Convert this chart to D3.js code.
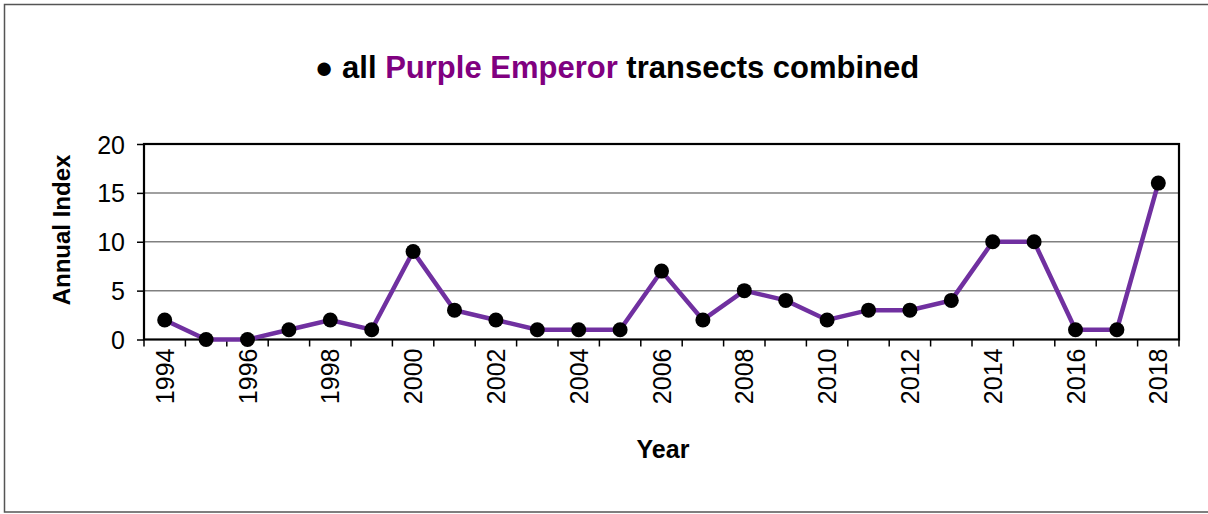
<!DOCTYPE html>
<html><head><meta charset="utf-8">
<script src="https://cdn.jsdelivr.net/npm/d3@7"></script>
<style>body{margin:0;background:#fff}svg{display:block}text{font-family:"Liberation Sans",Arial,sans-serif}</style>
</head><body><svg id="c" width="1208" height="514"></svg>
<script>
const years = [1994,1995,1996,1997,1998,1999,2000,2001,2002,2003,2004,2005,2006,2007,2008,2009,2010,2011,2012,2013,2014,2015,2016,2017,2018];
const annualIndex = [2,0,0,1,2,1,9,3,2,1,1,1,7,2,5,4,2,3,3,4,10,10,1,1,16];
const yTicks = [0,5,10,15,20];

const svg = d3.select("#c");
svg.append("rect").attr("x",4.5).attr("y",4.5).attr("width",1210).attr("height",507.5)
  .attr("fill","#fff").attr("stroke","#555").attr("stroke-width",1.5);

const L=144, R=1179, T=144, B=339.5;
const x = d3.scaleBand().domain(years).range([L,R]);
const y = d3.scaleLinear().domain([0,20]).range([B,T]);

// gridlines
svg.append("g").selectAll("line").data(yTicks.filter(d=>d>0&&d<20)).join("line")
  .attr("x1",L).attr("x2",R).attr("y1",d=>y(d)).attr("y2",d=>y(d))
  .attr("stroke","#808080").attr("stroke-width",1.5);

// plot border
svg.append("rect").attr("x",L).attr("y",T).attr("width",R-L).attr("height",B-T)
  .attr("fill","none").attr("stroke","#000").attr("stroke-width",2.2);

// y axis
const ya = svg.append("g").attr("transform",`translate(${L},0)`)
  .call(d3.axisLeft(y).tickValues(yTicks).tickSize(7).tickPadding(12));
ya.select(".domain").remove();
ya.selectAll("line").attr("stroke","#000").attr("stroke-width",1.5);
ya.selectAll("text").attr("font-size",25).attr("fill","#000").attr("dy","0.36em");

// x axis ticks at band boundaries
const bounds = years.map(d=>x(d)).concat([R]);
svg.append("g").selectAll("line").data(bounds).join("line")
  .attr("x1",d=>d).attr("x2",d=>d).attr("y1",B).attr("y2",B+7)
  .attr("stroke","#000").attr("stroke-width",1.5);
svg.append("g").selectAll("text").data(years.filter(d=>d%2===0)).join("text")
  .attr("transform",d=>`translate(${x(d)+x.bandwidth()/2+9},${B+9}) rotate(-90)`)
  .attr("text-anchor","end").attr("font-size",25).attr("fill","#000").text(d=>d);

// line
const line = d3.line().x((d,i)=>x(years[i])+x.bandwidth()/2).y(d=>y(d));
svg.append("path").datum(annualIndex).attr("d",line)
  .attr("fill","none").attr("stroke","#7030A0").attr("stroke-width",4.5).attr("stroke-linejoin","miter");
svg.append("g").selectAll("circle").data(annualIndex).join("circle")
  .attr("cx",(d,i)=>x(years[i])+x.bandwidth()/2).attr("cy",d=>y(d)).attr("r",7.5).attr("fill","#000");

// title
const t = svg.append("text").attr("x",617).attr("y",78).attr("text-anchor","middle")
  .attr("font-size",31).attr("font-weight","bold");
t.append("tspan").attr("fill","#000").text("\u25CF all ");
t.append("tspan").attr("fill","#800080").text("Purple Emperor");
t.append("tspan").attr("fill","#000").text(" transects combined");

// axis titles
svg.append("text").attr("transform","translate(70,230) rotate(-90)").attr("text-anchor","middle")
  .attr("font-size",24).attr("font-weight","bold").text("Annual Index");
svg.append("text").attr("x",663).attr("y",458).attr("text-anchor","middle")
  .attr("font-size",25).attr("font-weight","bold").text("Year");
</script></body></html>
